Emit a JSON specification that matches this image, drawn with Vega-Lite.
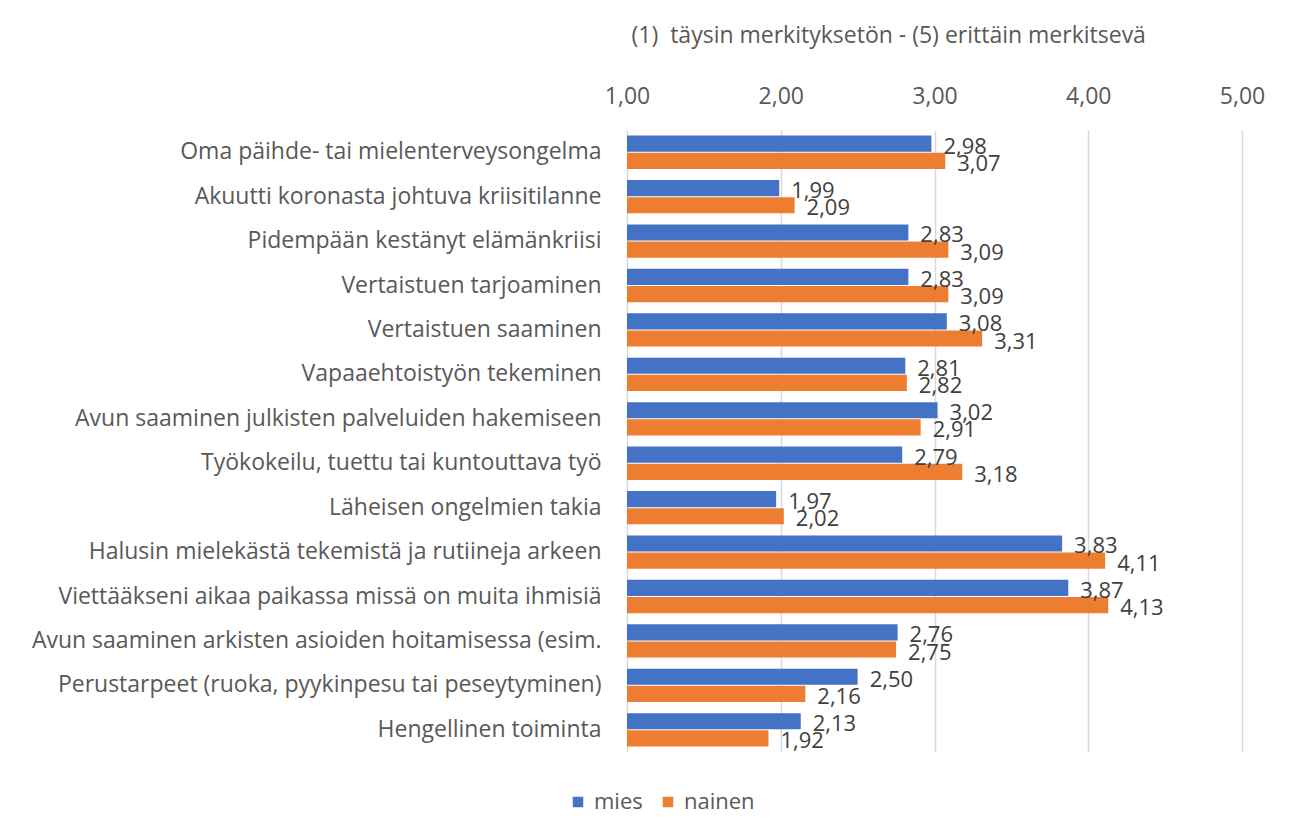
{
  "$schema": "https://vega.github.io/schema/vega-lite/v6.json",
  "width": 615,
  "height": 622,
  "autosize": {"type": "none"},
  "padding": {"left": 627, "top": 130, "right": 61, "bottom": 86},
  "background": "white",
  "config": {
    "locale": {"number": {"decimal": ",", "thousands": " ", "grouping": [3], "currency": ["", " €"]}},
    "font": "Open Sans",
    "view": {"stroke": null}
  },
  "data": {
    "values": [
      {"k": "Oma päihde- tai mielenterveysongelma", "s": "mies", "v": 2.98},
      {"k": "Oma päihde- tai mielenterveysongelma", "s": "nainen", "v": 3.07},
      {"k": "Akuutti koronasta johtuva kriisitilanne", "s": "mies", "v": 1.99},
      {"k": "Akuutti koronasta johtuva kriisitilanne", "s": "nainen", "v": 2.09},
      {"k": "Pidempään kestänyt elämänkriisi", "s": "mies", "v": 2.83},
      {"k": "Pidempään kestänyt elämänkriisi", "s": "nainen", "v": 3.09},
      {"k": "Vertaistuen tarjoaminen", "s": "mies", "v": 2.83},
      {"k": "Vertaistuen tarjoaminen", "s": "nainen", "v": 3.09},
      {"k": "Vertaistuen saaminen", "s": "mies", "v": 3.08},
      {"k": "Vertaistuen saaminen", "s": "nainen", "v": 3.31},
      {"k": "Vapaaehtoistyön tekeminen", "s": "mies", "v": 2.81},
      {"k": "Vapaaehtoistyön tekeminen", "s": "nainen", "v": 2.82},
      {"k": "Avun saaminen julkisten palveluiden hakemiseen", "s": "mies", "v": 3.02},
      {"k": "Avun saaminen julkisten palveluiden hakemiseen", "s": "nainen", "v": 2.91},
      {"k": "Työkokeilu, tuettu tai kuntouttava työ", "s": "mies", "v": 2.79},
      {"k": "Työkokeilu, tuettu tai kuntouttava työ", "s": "nainen", "v": 3.18},
      {"k": "Läheisen ongelmien takia", "s": "mies", "v": 1.97},
      {"k": "Läheisen ongelmien takia", "s": "nainen", "v": 2.02},
      {"k": "Halusin mielekästä tekemistä ja rutiineja arkeen", "s": "mies", "v": 3.83},
      {"k": "Halusin mielekästä tekemistä ja rutiineja arkeen", "s": "nainen", "v": 4.11},
      {"k": "Viettääkseni aikaa paikassa missä on muita ihmisiä", "s": "mies", "v": 3.87},
      {"k": "Viettääkseni aikaa paikassa missä on muita ihmisiä", "s": "nainen", "v": 4.13},
      {"k": "Avun saaminen arkisten asioiden hoitamisessa (esim.", "s": "mies", "v": 2.76},
      {"k": "Avun saaminen arkisten asioiden hoitamisessa (esim.", "s": "nainen", "v": 2.75},
      {"k": "Perustarpeet (ruoka, pyykinpesu tai peseytyminen)", "s": "mies", "v": 2.50},
      {"k": "Perustarpeet (ruoka, pyykinpesu tai peseytyminen)", "s": "nainen", "v": 2.16},
      {"k": "Hengellinen toiminta", "s": "mies", "v": 2.13},
      {"k": "Hengellinen toiminta", "s": "nainen", "v": 1.92}
    ]
  },
  "encoding": {
    "y": {
      "field": "k", "type": "nominal", "sort": null,
      "scale": {"paddingInner": 0.25, "paddingOuter": 0.125},
      "axis": {"title": null, "domain": false, "ticks": false, "labelFontSize": 23, "labelColor": "#595959", "labelPadding": 26, "labelLimit": 700}
    },
    "yOffset": {"field": "s", "type": "nominal", "scale": {"paddingInner": 0.06}}
  },
  "layer": [
    {
      "mark": {"type": "bar"},
      "encoding": {
        "x": {
          "field": "v", "type": "quantitative",
          "scale": {"domain": [1, 5], "zero": false, "nice": false},
          "axis": {
            "orient": "top", "values": [1, 2, 3, 4, 5], "format": ".2f", "labelFlush": false,
            "domain": false, "ticks": false, "gridColor": "#D9D9D9", "gridWidth": 1.5,
            "labelFontSize": 23, "labelColor": "#595959", "labelPadding": 22,
            "title": "(1)\u00a0 täysin merkityksetön - (5) erittäin merkitsevä",
            "titleFontSize": 23, "titleFontWeight": "normal", "titleColor": "#595959",
            "titleAnchor": "start", "titleAlign": "left", "titleX": 4, "titleY": -95, "titleBaseline": "middle"
          }
        },
        "x2": {"datum": 1},
        "color": {
          "field": "s", "type": "nominal",
          "scale": {"domain": ["mies", "nainen"], "range": ["#4472C4", "#ED7D31"]},
          "legend": {
            "title": null, "orient": "none", "direction": "horizontal", "legendX": -60, "legendY": 661,
            "symbolType": "square", "symbolSize": 110, "symbolStrokeWidth": 0, "symbolOpacity": 1,
            "labelFontSize": 22, "labelColor": "#595959", "columnPadding": 14, "labelOffset": 5
          }
        }
      }
    },
    {
      "mark": {"type": "text", "align": "left", "baseline": "middle", "dx": 12, "dy": 3, "fontSize": 22, "color": "#404040"},
      "encoding": {
        "x": {"field": "v", "type": "quantitative"},
        "text": {"field": "v", "type": "quantitative", "format": ".2f"}
      }
    }
  ]
}
